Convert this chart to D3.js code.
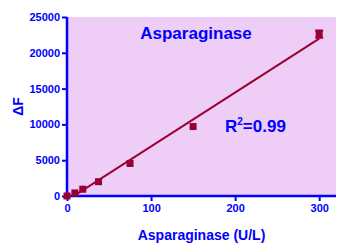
<!DOCTYPE html>
<html>
<head>
<meta charset="utf-8">
<script src="https://cdn.jsdelivr.net/npm/d3@7"></script>
<style>
  body { margin: 0; background: #fff; }
  text { font-family: "Liberation Sans", Arial, sans-serif; font-weight: bold; fill: #0000ff; }
</style>
</head>
<body>
<script>
// data
var conc = [0, 9.375, 18.75, 37.5, 75, 150, 300]
var deltaF = [0, 430, 950, 2000, 4540, 9700, 22600]
var errs = [0, 0, 0, 0, 0, 0, 500]
var xTicks = [0, 100, 200, 300]
var yTicks = [0, 5000, 10000, 15000, 20000, 25000]

var width = 352, height = 246
var margin = {l: 67, t: 17, r: 16, b: 50}
var plotW = width - margin.l - margin.r
var plotH = height - margin.t - margin.b
var blue = "#0000ff", maroon = "#990033"

var svg = d3.select("body").append("svg")
    .attr("width", width)
    .attr("height", height)

var x = d3.scaleLinear().domain([0, 320]).range([0, plotW])
var y = d3.scaleLinear().domain([0, 25000]).range([plotH, 0])

var g = svg.append("g")
    .attr("transform", "translate(" + margin.l + "," + margin.t + ")")

g.append("rect")
    .attr("width", plotW)
    .attr("height", plotH)
    .attr("fill", "#eecdf6")

// linear fit
var mx = d3.mean(conc), my = d3.mean(deltaF)
var sxy = 0, sxx = 0
for (var i = 0; i < conc.length; i++) {
    sxy += (conc[i] - mx) * (deltaF[i] - my)
    sxx += (conc[i] - mx) * (conc[i] - mx)
}
var slope = sxy / sxx, icpt = my - slope * mx

g.append("clipPath").attr("id", "clip")
    .append("rect").attr("width", plotW).attr("height", plotH)

g.append("line")
    .attr("clip-path", "url(#clip)")
    .attr("x1", x(0)).attr("y1", y(icpt))
    .attr("x2", x(300)).attr("y2", y(icpt + slope * 300))
    .style("stroke", maroon)
    .style("stroke-width", 2)

// axes
var xAxis = g.append("g")
    .attr("transform", "translate(0," + plotH + ")")
    .call(d3.axisBottom(x).tickValues(xTicks).tickFormat(d3.format("d")).tickSize(5).tickPadding(3))
var yAxis = g.append("g")
    .call(d3.axisLeft(y).tickValues(yTicks).tickFormat(d3.format("d")).tickSize(5).tickPadding(2))

;[xAxis, yAxis].forEach(function (a) {
    a.select(".domain").attr("stroke", blue).attr("stroke-width", 2.5)
    a.selectAll(".tick line").attr("stroke", blue).attr("stroke-width", 2)
    a.selectAll(".tick text")
        .attr("fill", blue)
        .style("font-size", "11px")
        .style("font-family", "Liberation Sans, Arial, sans-serif")
        .style("font-weight", "bold")
})
xAxis.select(".domain").attr("d", "M-2,0H" + plotW)
yAxis.select(".domain").attr("d", "M0,0V" + (plotH + 2))

// error bars
var pts = conc.map(function (c, i) { return {x: c, y: deltaF[i], e: errs[i]} })
g.selectAll(".err")
    .data(pts.filter(function (d) { return d.e > 0 }))
    .enter()
    .append("path")
    .attr("class", "err")
    .attr("d", function (d) {
        var cx = x(d.x), y1 = y(d.y + d.e), y2 = y(d.y - d.e)
        return "M" + (cx - 4) + "," + y1 + "H" + (cx + 4) + "M" + cx + "," + y1 + "V" + y2 +
            "M" + (cx - 4) + "," + y2 + "H" + (cx + 4)
    })
    .style("stroke", maroon)
    .style("stroke-width", 2)
    .style("fill", "none")

g.selectAll(".point")
    .data(pts)
    .enter()
    .append("rect")
    .attr("class", "point")
    .attr("x", function (d) { return x(d.x) - 3.5 })
    .attr("y", function (d) { return y(d.y) - 3.5 })
    .attr("width", 7)
    .attr("height", 7)
    .attr("fill", maroon)

// labels
svg.append("text")
    .attr("x", 196).attr("y", 39)
    .attr("text-anchor", "middle")
    .style("font-size", "17px")
    .text("Asparaginase")

var r2 = svg.append("text")
    .attr("x", 225).attr("y", 132)
    .style("font-size", "17px")
r2.append("tspan").text("R")
r2.append("tspan").attr("dy", -7).style("font-size", "10px").text("2")
r2.append("tspan").attr("dy", 7).text("=0.99")

svg.append("text")
    .attr("x", margin.l + x(160)).attr("y", 240)
    .attr("text-anchor", "middle")
    .style("font-size", "14px")
    .text("Asparaginase (U/L)")

svg.append("text")
    .attr("transform", "translate(23," + (margin.t + y(12500)) + ") rotate(-90)")
    .attr("text-anchor", "middle")
    .style("font-size", "14px")
    .text("ΔF")
</script>
</body>
</html>
